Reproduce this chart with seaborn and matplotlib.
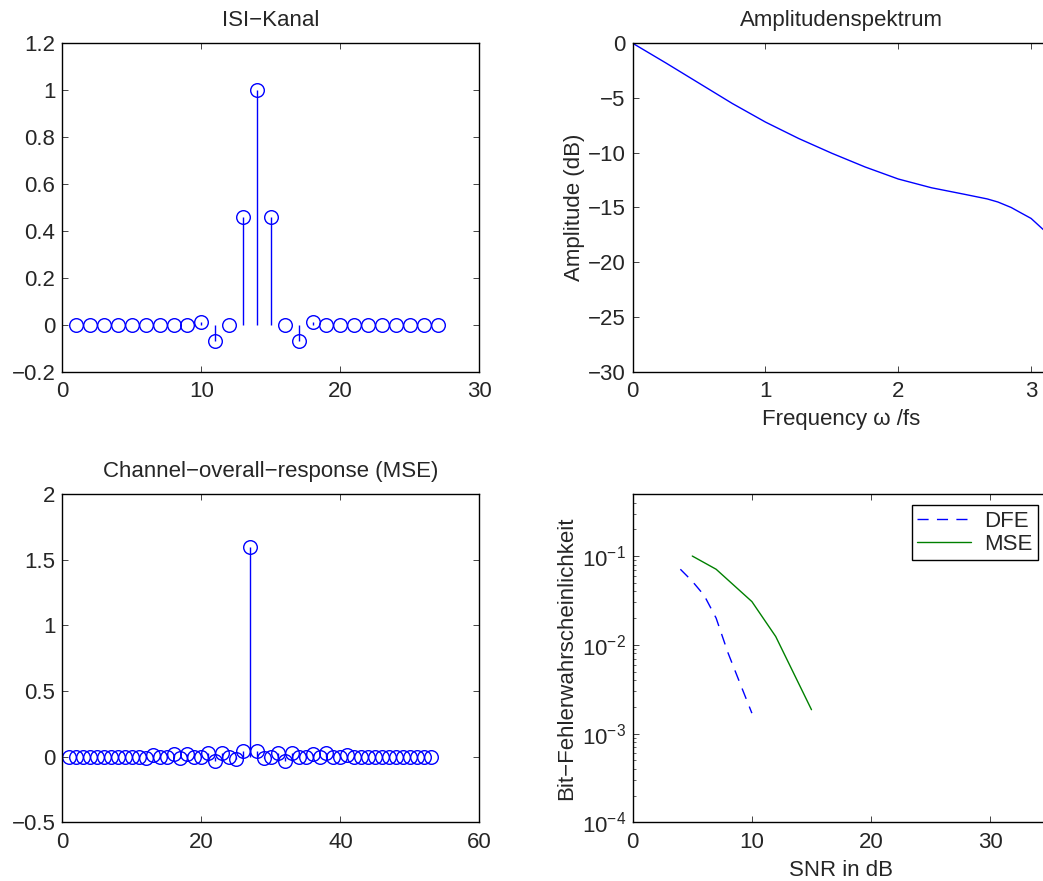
import numpy as np
import pandas as pd
import matplotlib
matplotlib.use("Agg")
import matplotlib.pyplot as plt
import seaborn as sns
from matplotlib.ticker import LogLocator, NullFormatter

sns.set_style("ticks")
plt.rcParams['font.family'] = ['Liberation Sans', 'DejaVu Sans']
plt.rcParams['mathtext.fontset'] = 'custom'
plt.rcParams['mathtext.rm'] = 'Liberation Sans'
plt.rcParams['mathtext.it'] = 'Liberation Sans'
plt.rcParams['axes.unicode_minus'] = True

FS = 16

# ---------------- data ----------------
isi_n = list(range(1, 28))
isi_h = [0, 0, 0, 0, 0, 0, 0, 0, 0, 0.01, -0.07, 0, 0.46, 1.0, 0.46, 0, -0.07, 0.01,
         0, 0, 0, 0, 0, 0, 0, 0, 0]

spec_w = [0, 0.25, 0.5, 0.75, 1.0, 1.25, 1.5, 1.75, 2.0, 2.25, 2.5, 2.67, 2.75, 2.85,
          2.92, 3.0, 3.09, np.pi]
spec_db = [0, -1.8, -3.65, -5.5, -7.2, -8.7, -10.05, -11.3, -12.4, -13.2, -13.8, -14.22,
           -14.5, -15.0, -15.47, -16.0, -17.0, -17.4]

ovr_n = list(range(1, 54))
ovr_h = [0, 0, 0, 0, 0, 0, 0, 0, 0, 0, 0, -0.008, 0.013, -0.005, -0.005, 0.018, -0.013,
         0.018, 0, -0.005, 0.031, -0.031, 0.026, -0.005, -0.02, 0.046, 1.6, 0.046, -0.013,
         -0.005, 0.026, -0.031, 0.026, -0.005, 0, 0.018, -0.005, 0.026, -0.005, 0, 0.013,
         -0.005, 0, 0, 0, 0, 0, 0, 0, 0, 0, 0, 0]

dfe_snr = [4, 5, 6, 7, 8, 9, 10]
dfe_ber = [0.071, 0.052, 0.036, 0.020, 0.0081, 0.0037, 0.0017]
mse_snr = [5, 7, 10, 12, 15]
mse_ber = [0.1, 0.071, 0.0307, 0.0124, 0.00186]

BLUE = (0, 0, 1)
GREEN = (0, 0.5, 0)

fig = plt.figure(figsize=(10.43, 8.81), dpi=100)
W = 0.4000
H = 0.3728
ax1 = fig.add_axes([0.0597, 0.5781, W, H])
ax2 = fig.add_axes([0.6066, 0.5781, W, H])
ax3 = fig.add_axes([0.0597, 0.0665, W, H])
ax4 = fig.add_axes([0.6066, 0.0665, W, H])


def style(ax):
    ax.tick_params(direction='in', length=4, width=0.6, top=True, right=True,
                   labelsize=FS, pad=5, which='major')
    ax.tick_params(axis='x', which='major', pad=7)
    ax.tick_params(direction='in', length=2.5, width=0.5, top=True, right=True,
                   which='minor')
    for s in ax.spines.values():
        s.set_linewidth(1.0)
        s.set_color('black')
        s.set_visible(True)


def stem(ax, n, h):
    ax.vlines(n, 0, h, color=BLUE, lw=1.0)
    df = pd.DataFrame({'n': n, 'h': h})
    sns.lineplot(data=df, x='n', y='h', ax=ax, estimator=None, sort=False,
                 color=BLUE, linestyle='', marker='o', markersize=9.8,
                 markerfacecolor='none', markeredgecolor=BLUE, markeredgewidth=1.0)
    ax.set_xlabel('')
    ax.set_ylabel('')


# ISI channel
stem(ax1, isi_n, isi_h)
ax1.set_xlim(0, 30)
ax1.set_ylim(-0.2, 1.2)
ax1.set_xticks([0, 10, 20, 30])
ax1.set_yticks([-0.2, 0, 0.2, 0.4, 0.6, 0.8, 1.0, 1.2])
ax1.set_yticklabels(['\u22120.2', '0', '0.2', '0.4', '0.6', '0.8', '1', '1.2'])
ax1.set_title('ISI\u2212Kanal', fontsize=FS, pad=12.5)
style(ax1)

# amplitude spectrum
sns.lineplot(x=spec_w, y=spec_db, ax=ax2, color=BLUE, lw=1.0, estimator=None, sort=False)
ax2.set_xlim(0, np.pi)
ax2.set_ylim(-30, 0)
ax2.set_xticks([0, 1, 2, 3])
ax2.set_yticks([0, -5, -10, -15, -20, -25, -30])
ax2.set_yticklabels(['0', '\u22125', '\u221210', '\u221215', '\u221220', '\u221225', '\u221230'])
ax2.set_title('Amplitudenspektrum', fontsize=FS, pad=12.5)
ax2.set_xlabel('Frequency \u03c9 /fs', fontsize=FS, labelpad=5)
ax2.set_ylabel('Amplitude (dB)', fontsize=FS, labelpad=2)
style(ax2)

# overall response
stem(ax3, ovr_n, ovr_h)
ax3.set_xlim(0, 60)
ax3.set_ylim(-0.5, 2)
ax3.set_xticks([0, 20, 40, 60])
ax3.set_yticks([-0.5, 0, 0.5, 1, 1.5, 2])
ax3.set_yticklabels(['\u22120.5', '0', '0.5', '1', '1.5', '2'])
ax3.set_title('Channel\u2212overall\u2212response (MSE)', fontsize=FS, pad=12)
style(ax3)

# BER
sns.lineplot(x=dfe_snr, y=dfe_ber, ax=ax4, color=BLUE, lw=1.0, linestyle=(0, (8, 6)),
             label='DFE', estimator=None, sort=False)
sns.lineplot(x=mse_snr, y=mse_ber, ax=ax4, color=GREEN, lw=1.0, label='MSE',
             estimator=None, sort=False)
ax4.set_yscale('log')
ax4.set_xlim(0, 35)
ax4.set_ylim(1e-4, 0.5)
ax4.set_xticks([0, 10, 20, 30])
ax4.set_yticks([1e-4, 1e-3, 1e-2, 1e-1])
ax4.set_yticklabels([r'$10^{\mathregular{-4}}$', r'$10^{\mathregular{-3}}$',
                     r'$10^{\mathregular{-2}}$', r'$10^{\mathregular{-1}}$'])
ax4.yaxis.set_minor_locator(LogLocator(base=10, subs=np.arange(2, 10), numticks=20))
ax4.yaxis.set_minor_formatter(NullFormatter())
ax4.set_xlabel('SNR in dB', fontsize=FS, labelpad=5)
ax4.set_ylabel('Bit\u2212Fehlerwahrscheinlichkeit', fontsize=FS, labelpad=3)
style(ax4)
leg = ax4.legend(loc='upper right', bbox_to_anchor=(1038 / 1043, 1 - 505 / 881),
                 bbox_transform=fig.transFigure, borderaxespad=0, fontsize=FS,
                 frameon=True, fancybox=False, framealpha=1, edgecolor='black',
                 handlelength=2.4, borderpad=0.25, labelspacing=0.1, handletextpad=0.6)
leg.get_frame().set_linewidth(1.0)

fig.savefig('out.png', dpi=100)
